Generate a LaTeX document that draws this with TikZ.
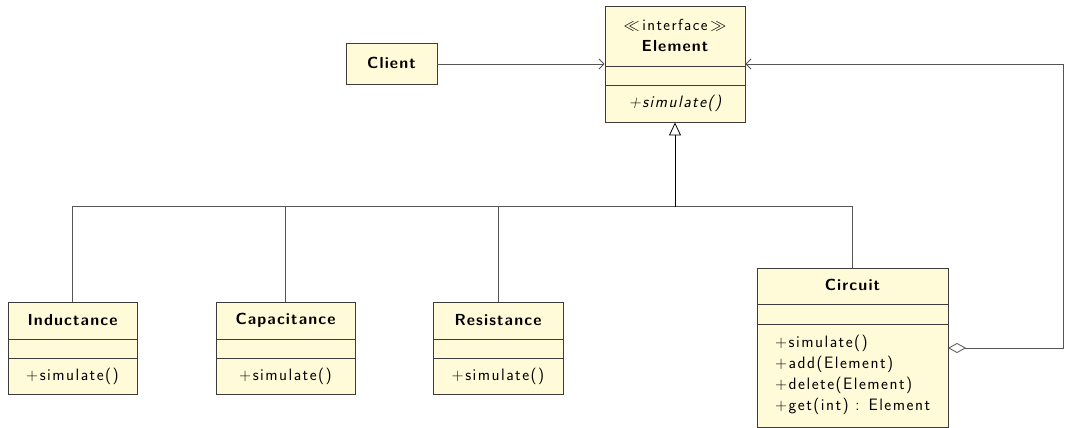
\RequirePackage{fix-cm}
\documentclass[tikz,border=0pt]{standalone}
\usepackage{fontspec}
\newfontfamily\ttlfont{Latin Modern Sans}[LetterSpace=7]
\newfontfamily\mthfont{Latin Modern Sans}[LetterSpace=9]
\usetikzlibrary{arrows.meta}
\definecolor{boxfill}{RGB}{255,250,215}
\definecolor{boxline}{RGB}{60,60,60}
\definecolor{conline}{RGB}{85,85,85}
\tikzset{
  classbox/.style={draw=boxline, fill=boxfill, line width=0.9pt, inner sep=0pt},
  sep/.style={draw=boxline, line width=0.8pt},
  ttl/.style={font=\ttlfont\bfseries\fontsize{16}{19}\selectfont, inner sep=0pt},
  mth/.style={font=\mthfont\fontsize{16.5}{19}\selectfont, inner sep=0pt},
  conn/.style={draw=conline, line width=0.8pt},
  assoc/.style={conn, -{Straight Barb[length=5pt,width=10pt]}},
  gen/.style={conn, draw=black, -{Triangle[open,length=13pt,width=12pt]}},
  aggr/.style={conn, {Diamond[open,length=18pt,width=10pt]}-{Straight Barb[length=5pt,width=10pt]}}
}
\begin{document}
\begin{tikzpicture}[x=1pt,y=-1pt]
\useasboundingbox (0,0) rectangle (1065,428);
% Element
\node[classbox, minimum width=140pt, minimum height=116pt] (elem) at (675,64) {};
\draw[sep] (605,66) -- (745,66);
\draw[sep] (605,85) -- (745,85);
\node[mth, font=\mthfont\fontsize{16}{18}\selectfont] (elemst) at (675,25) {$\ll$\,interface\,$\gg$};
\node[ttl] (elemt) at (675,46) {Element};
\node[mth, font=\mthfont\itshape\fontsize{16.5}{19}\selectfont] (elemm) at (675,103) {+simulate()};
% Client
\node[classbox, minimum width=91pt, minimum height=41pt] (client) at (391.5,64) {};
\node[ttl] (clientt) at (391.5,63) {Client};
% Inductance
\node[classbox, minimum width=129pt, minimum height=92pt] (ind) at (72.5,348) {};
\draw[sep] (8,339) -- (137,339);
\draw[sep] (8,358) -- (137,358);
\node[ttl] (indt) at (72.5,320) {Inductance};
\node[mth] (indm) at (72.5,376) {+simulate()};
% Capacitance
\node[classbox, minimum width=139pt, minimum height=92pt] (cap) at (285.5,348) {};
\draw[sep] (216,339) -- (355,339);
\draw[sep] (216,358) -- (355,358);
\node[ttl] (capt) at (285.5,320) {Capacitance};
\node[mth] (capm) at (285.5,376) {+simulate()};
% Resistance
\node[classbox, minimum width=130pt, minimum height=92pt] (res) at (498,348) {};
\draw[sep] (433,339) -- (563,339);
\draw[sep] (433,358) -- (563,358);
\node[ttl] (rest) at (498,320) {Resistance};
\node[mth] (resm) at (498,376) {+simulate()};
% Circuit
\node[classbox, minimum width=191pt, minimum height=159pt] (circ) at (852.5,347.5) {};
\draw[sep] (757,304) -- (948,304);
\draw[sep] (757,324) -- (948,324);
\node[ttl] (circt) at (852.5,285) {Circuit};
\node[mth, anchor=west] (circm1) at (775,343) {+simulate()};
\node[mth, anchor=west] (circm2) at (775,364) {+add(Element)};
\node[mth, anchor=west] (circm3) at (775,385) {+delete(Element)};
\node[mth, anchor=west] (circm4) at (775,406) {+get(int) : Element};
% connectors
\draw[assoc] (client.east) -- (elem.west);
\coordinate (agg) at (948,348);
\coordinate (r2) at (1063.5,348);
\coordinate (r1) at (1063.5,64);
\draw[aggr] (agg) -- (r2) -- (r1) -- (elem.east);
\coordinate (bus) at (675,206.5);
\draw[conn] (ind.north) |- (bus);
\draw[conn] (cap.north) |- (bus);
\draw[conn] (res.north) |- (bus);
\draw[conn] (circ.north) |- (bus);
\draw[gen] (bus) -- (elem.south);
\end{tikzpicture}
\end{document}
